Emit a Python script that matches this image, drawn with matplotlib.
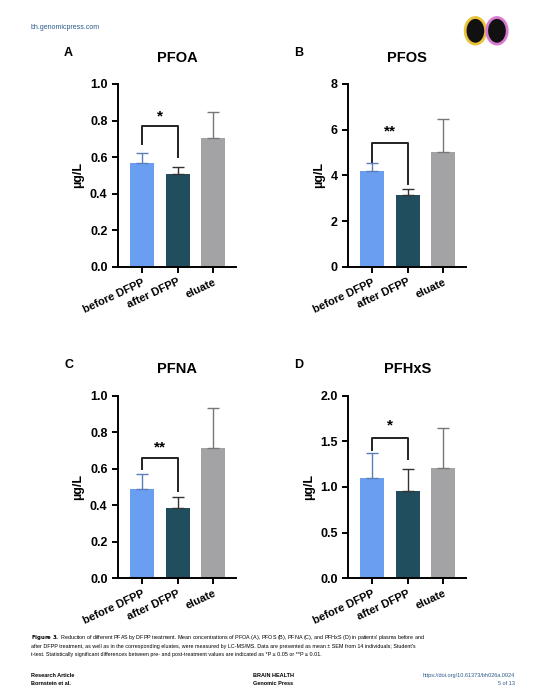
import matplotlib.pyplot as plt
from matplotlib.patches import Circle

plt.rcParams['font.family'] = ['Liberation Sans', 'DejaVu Sans']

groups = ['before DFPP', 'after DFPP', 'eluate']
colors = ['#6a9ef0', '#214e5e', '#a3a3a6']
err_colors = ['#5a7fb8', '#333333', '#777777']

titles = ['PFOA', 'PFOS', 'PFNA', 'PFHxS']
letters = ['A', 'B', 'C', 'D']
means = [[0.57, 0.51, 0.705], [4.2, 3.15, 5.03], [0.49, 0.385, 0.71], [1.10, 0.955, 1.21]]
sems = [[0.055, 0.035, 0.14], [0.35, 0.27, 1.45], [0.08, 0.058, 0.22], [0.27, 0.245, 0.43]]
ymax = [1.0, 8, 1.0, 2.0]
yticks = [[0, 0.2, 0.4, 0.6, 0.8, 1.0], [0, 2, 4, 6, 8], [0, 0.2, 0.4, 0.6, 0.8, 1.0], [0, 0.5, 1.0, 1.5, 2.0]]
tickfmt = ['{:.1f}', '{:.0f}', '{:.1f}', '{:.1f}']
# bracket: top, left end, right end, star label, star y
brackets = [(0.77, 0.67, 0.60, '*', 0.785), (5.4, 4.6, 3.6, '**', 5.6),
            (0.66, 0.60, 0.48, '**', 0.675), (1.54, 1.40, 1.30, '*', 1.60)]

fig = plt.figure(figsize=(5.39, 7.0), dpi=100)
positions = [(0.219, 0.619), (0.646, 0.619), (0.219, 0.174), (0.646, 0.174)]

for i in range(4):
    ax = fig.add_axes([positions[i][0], positions[i][1], 0.219, 0.261])
    x = range(3)
    ax.bar(x, means[i], width=0.68, color=colors, zorder=2)
    for j in x:
        ax.errorbar(j, means[i][j], yerr=[[0], [sems[i][j]]], fmt='none',
                    ecolor=err_colors[j], elinewidth=1, capsize=4, capthick=1, zorder=3)
    ax.set_xlim(-0.68, 2.65)
    ax.set_ylim(0, ymax[i])
    ax.set_yticks(yticks[i])
    ax.set_yticklabels([tickfmt[i].format(v) for v in yticks[i]], fontsize=9, fontweight='bold')
    ax.set_xticks(list(x))
    ax.set_xticklabels(groups, rotation=25, ha='right', rotation_mode='anchor',
                       fontsize=8, fontweight='bold')
    for s in ['top', 'right']:
        ax.spines[s].set_visible(False)
    for s in ['left', 'bottom']:
        ax.spines[s].set_linewidth(1.4)
    ax.tick_params(width=1.4, length=4)
    ax.set_ylabel('µg/L', fontsize=9, fontweight='bold')
    top, lft, rgt, lab, sy = brackets[i]
    ax.plot([0, 0, 1, 1], [lft, top, top, rgt], color='#222222', lw=1.4)
    ax.text(0.5, sy, lab, ha='center', va='bottom', fontsize=11, fontweight='bold')
    ax.set_title(titles[i], fontsize=10.5, fontweight='bold', pad=16)
    fig.text(positions[i][0] - 0.10, positions[i][1] + 0.261 + 0.04, letters[i],
             fontsize=9, fontweight='bold')

fig.text(0.057, 0.958, 'bh.genomicpress.com', fontsize=5, color='#2c5a8c')
for cx, fc, ec in [(0.882, '#111111', '#e8c23a'), (0.922, '#111111', '#d87ad0')]:
    fig.patches.append(Circle((cx, 0.956), 0.019, transform=fig.transFigure, facecolor=fc,
                              edgecolor=ec, lw=2))

caption = ("$\\bf{Figure\\ 3.}$ Reduction of different PFAS by DFPP treatment. Mean concentrations of PFOA (A), PFOS (B), PFNA (C), and PFHxS (D) in patients' plasma before and\n"
           "after DFPP treatment, as well as in the corresponding eluates, were measured by LC-MS/MS. Data are presented as mean ± SEM from 14 individuals; Student's\n"
           "t-test. Statistically significant differences between pre- and post-treatment values are indicated as *P ≤ 0.05 or **P ≤ 0.01.")
fig.text(0.057, 0.062, caption, fontsize=3.9, va='bottom', linespacing=1.6)
fig.text(0.057, 0.022, 'Research Article\nBornstein et al.', fontsize=4, fontweight='bold', linespacing=1.6)
fig.text(0.47, 0.022, 'BRAIN HEALTH\nGenomic Press', fontsize=4, fontweight='bold', linespacing=1.6)
fig.text(0.955, 0.022, 'https://doi.org/10.61373/bh026a.0024\n5 of 13', fontsize=4, ha='right',
         color='#2c5a8c', linespacing=1.6, multialignment='right')

fig.savefig('out.png', dpi=100)
